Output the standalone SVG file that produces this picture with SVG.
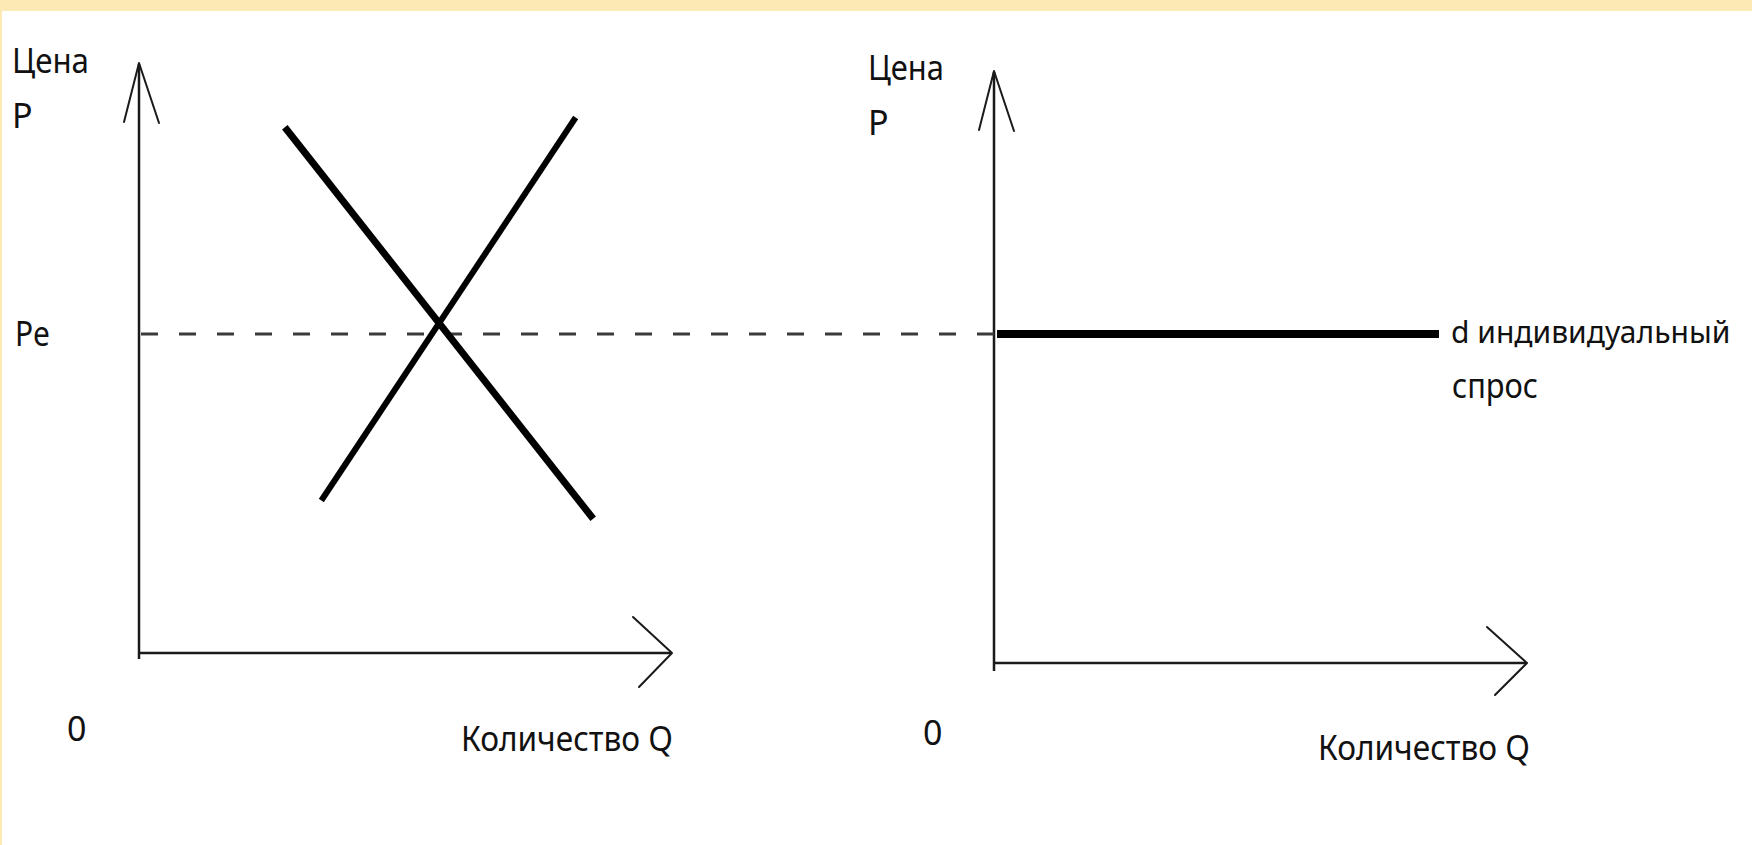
<svg xmlns="http://www.w3.org/2000/svg" width="1752" height="845" viewBox="0 0 1752 845">
  <style>
    .lbl { font-family: "Noto Sans", "Open Sans", sans-serif; font-size: 34px; fill: #111; }
    .lbl-sm { font-family: "Noto Sans", "Open Sans", sans-serif; font-size: 30px; fill: #111; }
    .axis { stroke: #1a1a1a; stroke-width: 2.5; fill: none; }
    .head { stroke: #1a1a1a; stroke-width: 2; fill: none; stroke-linecap: round; stroke-linejoin: round; }
    .curve { stroke: #000; fill: none; stroke-linecap: square; }
    .dash { stroke: #3a3a3a; stroke-width: 3; stroke-dasharray: 17 21; fill: none; }
  </style>
  <rect x="0" y="0" width="1752" height="845" fill="#ffffff"/>
  <rect x="0" y="0" width="1752" height="11" fill="#fde9b3"/>
  <rect x="0" y="11" width="2" height="834" fill="#fde9b3"/>

  <g id="connectors">
    <!-- left axes -->
    <line class="axis" x1="139" y1="64" x2="139" y2="659"/>
    <line class="axis" x1="139" y1="653" x2="671" y2="653"/>
    <polyline class="head" points="124,122 139,63 159,123"/>
    <polyline class="head" points="633,617 672,653 639,687"/>
    <!-- right axes -->
    <line class="axis" x1="994" y1="72" x2="994" y2="671"/>
    <line class="axis" x1="994" y1="663" x2="1526" y2="663"/>
    <polyline class="head" points="979,130 994,71 1014,131"/>
    <polyline class="head" points="1487,627 1527,663 1495,695"/>
    <!-- equilibrium price dashed line -->
    <line class="dash" x1="141" y1="334" x2="994" y2="334"/>
  </g>

  <g id="demand-curve">
    <line class="curve" stroke-width="7" x1="287" y1="130" x2="591" y2="516"/>
  </g>
  <g id="supply-curve">
    <line class="curve" stroke-width="6" x1="323" y1="498" x2="574" y2="120"/>
  </g>
  <g id="individual-demand">
    <line stroke="#000" stroke-width="8" x1="997" y1="334" x2="1439" y2="334"/>
  </g>

  <g id="left-labels">
    <text class="lbl" x="12" y="73" textLength="77" lengthAdjust="spacingAndGlyphs">Цена</text>
    <text class="lbl" x="12" y="128">P</text>
    <text class="lbl" x="15" y="346" textLength="35" lengthAdjust="spacingAndGlyphs">Pe</text>
    <text class="lbl" x="67" y="741">0</text>
    <text class="lbl" x="461" y="751" textLength="212" lengthAdjust="spacingAndGlyphs">Количество Q</text>
  </g>

  <g id="right-labels">
    <text class="lbl" x="868" y="80" textLength="76" lengthAdjust="spacingAndGlyphs">Цена</text>
    <text class="lbl" x="868" y="135">P</text>
    <text class="lbl" x="923" y="745">0</text>
    <text class="lbl" x="1318" y="760" textLength="212" lengthAdjust="spacingAndGlyphs">Количество Q</text>
    <text class="lbl-sm" x="1451" y="343">d индивидуальный</text>
    <text class="lbl" x="1452" y="398" textLength="86" lengthAdjust="spacingAndGlyphs">спрос</text>
  </g>
</svg>
